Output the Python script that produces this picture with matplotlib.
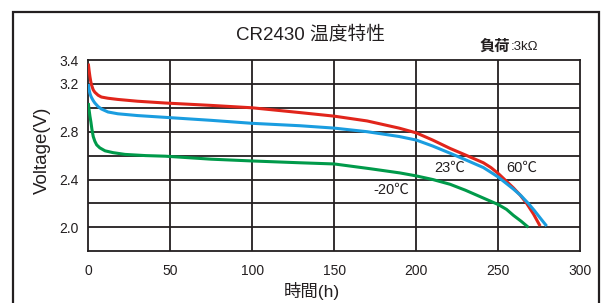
import matplotlib
matplotlib.use("Agg")
import matplotlib.pyplot as plt
from matplotlib.patches import Rectangle

plt.rcParams['font.family'] = ['Liberation Sans', 'Noto Sans CJK TC', 'DejaVu Sans']

# discharge curves (hours, volts)
hours_60 = [0, 0.5, 1, 1.5, 2, 3, 4, 6, 8, 12, 18, 30, 47, 75, 100, 129, 150, 170, 189.5,
            200, 210, 220.6, 230, 240.9, 245.5, 250, 254.6, 259.2, 263.3, 267.3, 271.5, 275.5]
volts_60 = [3.37, 3.31, 3.26, 3.22, 3.19, 3.15, 3.13, 3.105, 3.09, 3.08, 3.07, 3.055, 3.04, 3.02, 3.00, 2.96, 2.93, 2.89, 2.83,
            2.79, 2.73, 2.66, 2.605, 2.54, 2.50, 2.45, 2.39, 2.33, 2.27, 2.20, 2.11, 2.01]

hours_23 = [0, 0.5, 1, 1.5, 2, 3, 4, 6, 8, 12, 18, 30, 47, 75, 100, 129, 150, 170, 189.5,
            200, 210, 220.6, 230, 240.9, 245.5, 250, 254.6, 259.2, 263.8, 268.3, 272, 276, 279.5]
volts_23 = [3.20, 3.15, 3.12, 3.10, 3.085, 3.06, 3.04, 3.01, 2.99, 2.965, 2.95, 2.935, 2.92, 2.895, 2.87, 2.85, 2.83, 2.80, 2.76,
            2.73, 2.68, 2.62, 2.565, 2.50, 2.46, 2.42, 2.37, 2.32, 2.265, 2.20, 2.14, 2.07, 2.01]

hours_m20 = [0, 0.5, 1, 1.6, 2.2, 3, 4, 5.1, 7, 10.2, 15, 22.4, 35, 47, 75, 100, 129, 150, 172, 190,
             200, 210, 220.6, 230, 240, 250, 255, 259.2, 264, 268.3]
volts_m20 = [3.04, 2.98, 2.93, 2.88, 2.82, 2.76, 2.72, 2.69, 2.665, 2.64, 2.625, 2.61, 2.60, 2.595, 2.57, 2.555, 2.54, 2.53, 2.49, 2.455,
             2.43, 2.40, 2.36, 2.31, 2.25, 2.19, 2.15, 2.10, 2.05, 2.00]

curve_labels = ["60℃", "23℃", "-20℃"]
label_pos = [(264.3, 2.50), (220.6, 2.50), (184.9, 2.31)]
colors = ["#e1251b", "#1a9de0", "#009a4a"]

x_ticks = [0, 50, 100, 150, 200, 250, 300]
y_grid = [1.8, 2.0, 2.2, 2.4, 2.6, 2.8, 3.0, 3.2, 3.4]
y_ticks = [2.0, 2.4, 2.8, 3.2, 3.4]

ink = "#231f20"

fig = plt.figure(figsize=(6.03, 3.03), dpi=100)
fig.patches.append(Rectangle((12.5 / 603, -0.2), 586 / 603, 1.2 - 11.5 / 303,
                             transform=fig.transFigure, fill=False,
                             edgecolor=ink, linewidth=1.6))

ax = fig.add_axes([88.3 / 603, 1 - 251.2 / 303, 492 / 603, 191.2 / 303])

for h, v, c in zip([hours_60, hours_23, hours_m20], [volts_60, volts_23, volts_m20], colors):
    ax.plot(h, v, color=c, linewidth=2.2, solid_capstyle='butt', zorder=3)

for txt, (lx, ly) in zip(curve_labels, label_pos):
    ax.text(lx, ly, txt, fontsize=10.5, color=ink, ha='center', va='center', zorder=4)

ax.set_xlim(0, 300)
ax.set_ylim(1.8, 3.4)
ax.set_xticks(x_ticks)
ax.set_yticks(y_grid)
ax.set_yticklabels([f"{v:.1f}" if round(v, 1) in y_ticks else "" for v in y_grid])
for xv in x_ticks[1:-1]:
    ax.axvline(xv, color=ink, linewidth=1.3, zorder=1)
for yv in y_grid[1:-1]:
    ax.axhline(yv, color=ink, linewidth=1.3, zorder=1)
for s in ax.spines.values():
    s.set_color(ink)
    s.set_linewidth(1.3)
ax.tick_params(length=0, labelsize=10, colors=ink)
ax.tick_params(axis='x', pad=9)
ax.tick_params(axis='y', pad=7)

fig.text(311 / 603, 1 - 35 / 303, "CR2430 温度特性", fontsize=13.5, color=ink,
         ha='center', va='center')
fig.text(480 / 603, 1 - 47 / 303, "負荷", fontsize=11, fontweight='bold', color=ink,
         ha='left', va='center')
fig.text(510.5 / 603, 1 - 47 / 303, ":3kΩ", fontsize=9.5, color=ink, ha='left', va='center')
fig.text(42 / 603, 1 - 150 / 303, "Voltage(V)", fontsize=13.5, color=ink,
         rotation=90, ha='center', va='center')
fig.text(311.7 / 603, 1 - 291 / 303, "時間(h)", fontsize=12.5, color=ink,
         ha='center', va='center')

fig.savefig("out.png", dpi=100)
